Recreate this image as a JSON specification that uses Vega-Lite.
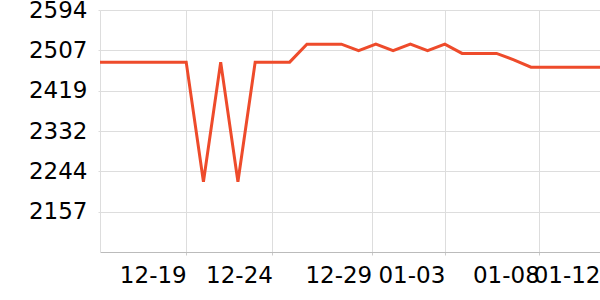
{
  "$schema": "https://vega.github.io/schema/vega-lite/v6.json",
  "width": 500,
  "height": 242,
  "autosize": {"type": "none"},
  "padding": {"left": 100, "top": 10, "right": 0, "bottom": 48},
  "background": "white",
  "config": {
    "view": {"stroke": null},
    "font": "DejaVu Sans"
  },
  "data": {
    "values": [
      {"date": "2023-12-14", "value": 2481},
      {"date": "2023-12-15", "value": 2481},
      {"date": "2023-12-16", "value": 2481},
      {"date": "2023-12-17", "value": 2481},
      {"date": "2023-12-18", "value": 2481},
      {"date": "2023-12-19", "value": 2481},
      {"date": "2023-12-20", "value": 2222},
      {"date": "2023-12-21", "value": 2481},
      {"date": "2023-12-22", "value": 2222},
      {"date": "2023-12-23", "value": 2481},
      {"date": "2023-12-24", "value": 2481},
      {"date": "2023-12-25", "value": 2481},
      {"date": "2023-12-26", "value": 2520},
      {"date": "2023-12-27", "value": 2520},
      {"date": "2023-12-28", "value": 2520},
      {"date": "2023-12-29", "value": 2506},
      {"date": "2023-12-30", "value": 2520},
      {"date": "2023-12-31", "value": 2506},
      {"date": "2024-01-01", "value": 2520},
      {"date": "2024-01-02", "value": 2506},
      {"date": "2024-01-03", "value": 2520},
      {"date": "2024-01-04", "value": 2500},
      {"date": "2024-01-05", "value": 2500},
      {"date": "2024-01-06", "value": 2500},
      {"date": "2024-01-07", "value": 2486},
      {"date": "2024-01-08", "value": 2470},
      {"date": "2024-01-09", "value": 2470},
      {"date": "2024-01-10", "value": 2470},
      {"date": "2024-01-11", "value": 2470},
      {"date": "2024-01-12", "value": 2470}
    ]
  },
  "mark": {"type": "line", "color": "#ee4b2b", "strokeWidth": 3, "strokeJoin": "miter", "clip": true},
  "encoding": {
    "x": {
      "field": "date",
      "type": "temporal",
      "scale": {"type": "utc", "nice": false},
      "axis": {
        "title": null,
        "labelExpr": "utcFormat(datum.value, '%m-%d')",
        "values": [
          {"year": 2023, "month": 12, "date": 19, "utc": true},
          {"year": 2023, "month": 12, "date": 24, "utc": true},
          {"year": 2023, "month": 12, "date": 29, "hours": 18, "minutes": 14, "utc": true},
          {"year": 2024, "month": 1, "date": 3, "utc": true},
          {"year": 2024, "month": 1, "date": 8, "hours": 11, "minutes": 30, "utc": true},
          {"year": 2024, "month": 1, "date": 12, "utc": true}
        ],
        "labelAlign": "right",
        "labelBaseline": "top",
        "labelFontSize": 23,
        "labelColor": "#000000",
        "labelPadding": 9,
        "labelFlush": false,
        "labelOverlap": false,
        "ticks": true,
        "tickSize": 3,
        "tickColor": "#cccccc",
        "domainColor": "#bbbbbb",
        "grid": true,
        "gridColor": "#dddddd"
      }
    },
    "y": {
      "field": "value",
      "type": "quantitative",
      "scale": {"domain": [2069.6, 2594], "nice": false, "zero": false},
      "axis": {
        "title": null,
        "values": [2157, 2244.4, 2331.8, 2419.2, 2506.6, 2594],
        "format": ".0f",
        "labelFontSize": 23,
        "labelColor": "#000000",
        "labelPadding": 11,
        "ticks": true,
        "tickSize": 2,
        "tickColor": "#dddddd",
        "domainColor": "#dddddd",
        "grid": true,
        "gridColor": "#dddddd",
        "labelOverlap": false
      }
    }
  }
}
